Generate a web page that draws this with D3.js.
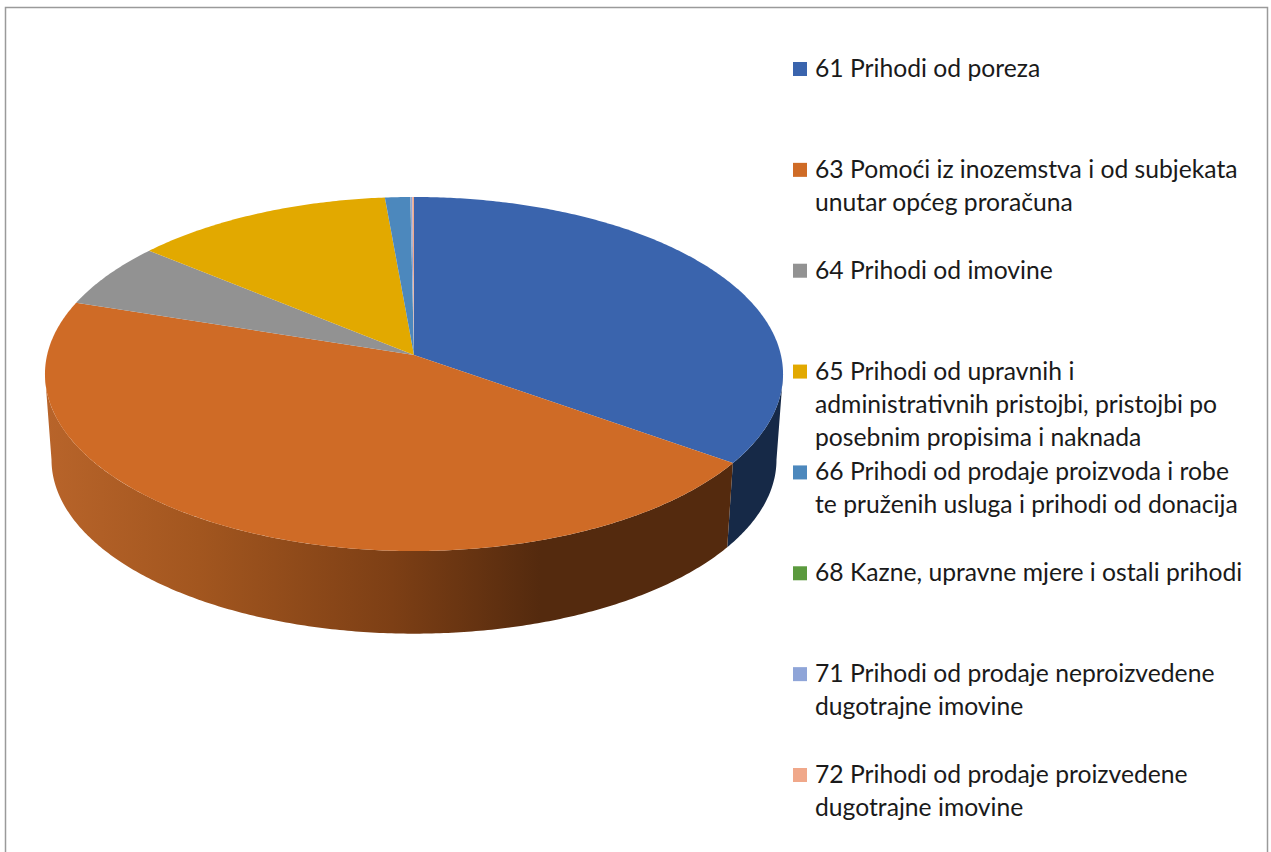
<!DOCTYPE html>
<html lang="hr">
<head>
<meta charset="utf-8">
<title></title>
<script src="https://d3js.org/d3.v7.min.js"></script>
<style>
html, body { margin: 0; background: #fff; }
svg { display: block; }
text { font-family: Lato, "Open Sans", sans-serif; font-size: 24.7px; fill: #1a1a1a; }
</style>
</head>
<body>
<div id="chart"></div>
<script>
var categories = ["61", "63", "64", "65", "66", "68", "71", "72"];
var values = [34.8, 45.1, 6.0, 12.6, 1.22, 0.01, 0.09, 0.08];
var colors = ["#3a64ad", "#cf6b26", "#929292", "#e2a900", "#4c88bd", "#5b9a3e", "#8fa5d8", "#f0a88a"];
var labels = [
	["61 Prihodi od poreza"],
	["63 Pomoći iz inozemstva i od subjekata", "unutar općeg proračuna"],
	["64 Prihodi od imovine"],
	["65 Prihodi od upravnih i", "administrativnih pristojbi, pristojbi po", "posebnim propisima i naknada"],
	["66 Prihodi od prodaje proizvoda i robe", "te pruženih usluga i prihodi od donacija"],
	["68 Kazne, upravne mjere i ostali prihodi"],
	["71 Prihodi od prodaje neproizvedene", "dugotrajne imovine"],
	["72 Prihodi od prodaje proizvedene", "dugotrajne imovine"]
];
var gradStops = [[0, "#b8642a"], [0.31, "#a2561f"], [0.7, "#7d3f15"], [1, "#542a0e"]];

var width = 1271, height = 852;
var svg = d3.select("#chart").append("svg").attr("width", width).attr("height", height);

// chart frame, bottom edge is cut off in the picture
svg.append("path").attr("d", "M5.5,852V7.5H1267.5V852")
	.attr("fill", "none").attr("stroke", "#9a9a9a").attr("stroke-width", 1.5);

// the disc is tilted, so the centre does not sit in the middle of the ellipse
var k = 0.1073;
function project(a, disc){
	var u = Math.sin(a), v = -Math.cos(a), w = 1 - k * v;
	return [disc.cx + disc.rx * u / w, disc.cy + disc.ry * v / w];
}
var topDisc = {cx: 414, cy: 355, rx: 366.9, ry: 175};
var botDisc = {cx: 414, cy: 441, rx: 360.4, ry: 172};

var pie = d3.pie().sort(null)(values);
var line = d3.line();

function rim(a0, a1, disc){
	var n = Math.max(2, Math.ceil((a1 - a0) / 0.01));
	return d3.range(n + 1).map(function(i){ return project(a0 + (a1 - a0) * i / n, disc); });
}

var defs = svg.append("defs");
var grad = defs.append("linearGradient").attr("id", "orangeSide")
	.attr("gradientUnits", "userSpaceOnUse").attr("x1", 46).attr("x2", 540).attr("y1", 0).attr("y2", 0);
grad.selectAll("stop").data(gradStops).enter().append("stop")
	.attr("offset", function(d){ return d[0]; }).attr("stop-color", function(d){ return d[1]; });

// side wall runs between the two points where the rim turns back
var turn = Math.asin(k);
var frontA = Math.PI / 2 + turn, frontB = Math.PI * 1.5 - turn;
svg.append("g").selectAll("path").data(pie).enter().append("path")
	.filter(function(d){ return d.endAngle > frontA && d.startAngle < frontB; })
	.attr("d", function(d){
		var a0 = Math.max(d.startAngle, frontA), a1 = Math.min(d.endAngle, frontB);
		return line(rim(a0, a1, topDisc).concat(rim(a0, a1, botDisc).reverse())) + "Z";
	})
	.attr("fill", function(d){ return d.index == 0 ? "#162947" : "url(#orangeSide)"; });

// top of the pie
svg.append("g").selectAll("path").data(pie).enter().append("path")
	.attr("d", function(d){
		return line([[topDisc.cx, topDisc.cy]].concat(rim(d.startAngle, d.endAngle, topDisc))) + "Z";
	})
	.attr("fill", function(d){ return colors[d.index]; });

// legend
var legendY = d3.scalePoint().domain(categories).range([69, 775]);
var rows = svg.append("g").selectAll("g").data(categories).enter().append("g")
	.attr("transform", function(d){ return "translate(0," + legendY(d) + ")"; });
rows.append("rect").attr("x", 793).attr("y", -7).attr("width", 14).attr("height", 14)
	.attr("fill", function(d, i){ return colors[i]; });
rows.append("text").attr("x", 815).attr("y", 8)
	.selectAll("tspan").data(function(d, i){ return labels[i]; }).enter().append("tspan")
	.attr("x", 815).attr("dy", function(d, i){ return i ? 33 : 0; })
	.text(function(d){ return d; });
</script>
</body>
</html>
